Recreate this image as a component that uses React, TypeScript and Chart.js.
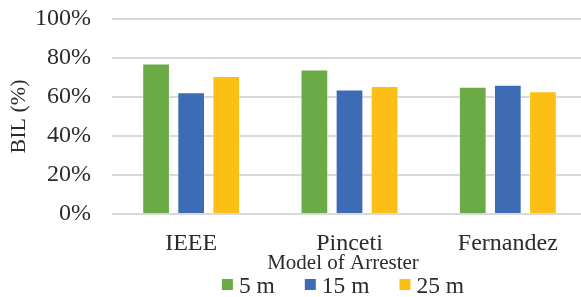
import React, { useEffect, useRef } from 'react';
import { Chart, registerables } from 'chart.js';

Chart.register(...registerables);

const categories = ['IEEE', 'Pinceti', 'Fernandez'];
const seriesLabels = ['5 m', '15 m', '25 m'];
const values5m = [77.2, 74.1, 65.3];
const values15m = [62.5, 63.8, 66.3];
const values25m = [70.8, 65.6, 62.9];
const seriesColors = ['#6aab45', '#3d6cb5', '#fbbf15'];
const yMin = 0;
const yMax = 100;
const yStep = 20;
const xTitle = 'Model of Arrester';
const yTitle = 'BIL (%)';

const FONT = "'Liberation Serif', 'Times New Roman', serif";
const TEXT = '#2b2b2b';

const bottomPlugin = {
  id: 'bottomText',
  afterDraw(chart: any) {
    const ctx = chart.ctx;
    const centerX = 343;
    ctx.save();
    ctx.fillStyle = TEXT;
    ctx.textBaseline = 'alphabetic';
    ctx.font = `21px ${FONT}`;
    ctx.textAlign = 'center';
    ctx.fillText(xTitle, centerX, 269);

    ctx.font = `23.5px ${FONT}`;
    ctx.textAlign = 'left';
    const box = 11;
    const gapBoxText = 6;
    const gapItems = 30;
    const ds = chart.data.datasets;
    const widths = ds.map((d: any) => box + gapBoxText + ctx.measureText(d.label).width);
    const total = widths.reduce((a: number, b: number) => a + b, 0) + gapItems * (ds.length - 1);
    let x = centerX - total / 2;
    const baseline = 293;
    ds.forEach((d: any, i: number) => {
      ctx.fillStyle = d.backgroundColor;
      ctx.fillRect(x, baseline - 3 - box, box, box);
      ctx.fillStyle = TEXT;
      ctx.fillText(d.label, x + box + gapBoxText, baseline);
      x += widths[i] + gapItems;
    });
    ctx.restore();
  },
};

export default function App() {
  const canvasRef = useRef<HTMLCanvasElement | null>(null);

  useEffect(() => {
    document.body.style.margin = '0';
    const canvas = canvasRef.current;
    if (!canvas) return;
    const seriesValues = [values5m, values15m, values25m];
    const chart = new Chart(canvas, {
      type: 'bar',
      data: {
        labels: categories,
        datasets: seriesLabels.map((label, i) => ({
          label,
          data: seriesValues[i],
          backgroundColor: seriesColors[i],
          borderColor: 'rgba(255,255,255,0.55)',
          borderWidth: 1,
          categoryPercentage: 0.665,
          barPercentage: 0.79,
        })),
      },
      options: {
        responsive: false,
        animation: false,
        devicePixelRatio: 1,
        layout: { padding: { top: 0, left: 6, right: 0, bottom: 0 } },
        plugins: {
          legend: { display: false },
          tooltip: { enabled: false },
          title: { display: false },
        },
        scales: {
          x: {
            grid: { display: false, drawTicks: false },
            border: { display: false },
            ticks: {
              color: TEXT,
              font: { family: FONT, size: 24 },
              padding: 15,
              maxRotation: 0,
            },
            afterFit: (scale: any) => {
              scale.height = 83;
            },
          },
          y: {
            min: yMin,
            max: yMax,
            grid: { color: '#d9d9d9', lineWidth: 2, drawTicks: false },
            border: { display: false },
            ticks: {
              stepSize: yStep,
              color: TEXT,
              font: { family: FONT, size: 24 },
              padding: 21,
              callback: (v: any) => `${v}%`,
            },
            title: {
              display: true,
              text: yTitle,
              color: TEXT,
              font: { family: FONT, size: 22 },
              padding: { top: 0, bottom: 3 },
            },
            afterFit: (scale: any) => {
              scale.width = 106;
              scale.paddingTop = 19;
              scale.paddingBottom = 0;
            },
          },
        },
      },
      plugins: [bottomPlugin],
    });
    return () => chart.destroy();
  }, []);

  return (
    <div style={{ width: 581, height: 297, overflow: 'hidden' }}>
      <canvas ref={canvasRef} width={587} height={297} style={{ display: 'block' }} />
    </div>
  );
}
